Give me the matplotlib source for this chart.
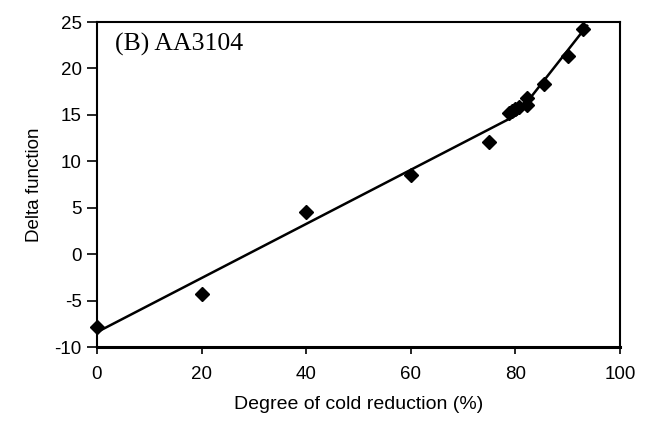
import matplotlib
matplotlib.use("Agg")
import matplotlib.pyplot as plt

# measured points: degree of cold reduction (%) vs delta function
reduction = [0, 20, 40, 60, 75, 78.8, 79.4, 80.0, 80.6, 82.2, 82.3, 85.4, 90.1, 92.9]
delta = [-7.8, -4.3, 4.5, 8.5, 12.1, 15.2, 15.4, 15.6, 15.8, 16.8, 16.1, 18.3, 21.3, 24.3]

# two-segment fit drawn through the data
fit_x = [0, 80.3, 93.7]
fit_y = [-8.4, 15.0, 24.6]

x_ticks = [0, 20, 40, 60, 80, 100]
y_ticks = [-10, -5, 0, 5, 10, 15, 20, 25]

sans = ["Liberation Sans", "DejaVu Sans"]
serif = ["Liberation Serif", "DejaVu Serif"]
plt.rcParams["axes.unicode_minus"] = False

fig = plt.figure(figsize=(6.51, 4.22), dpi=100)
ax = fig.add_axes((97 / 651, 1 - 347 / 422, 523 / 651, 325 / 422))

ax.plot(fit_x, fit_y, color="black", linewidth=1.8, zorder=2)
ax.plot(reduction, delta, linestyle="none", marker="D", markersize=7,
        color="black", zorder=3, clip_on=False)

ax.set_xlim(0, 100)
ax.set_ylim(-10, 25)
ax.set_xticks(x_ticks)
ax.set_yticks(y_ticks)
ax.tick_params(direction="out", width=1.2, labelsize=13.5)
ax.tick_params(axis="x", length=5, pad=9)
ax.tick_params(axis="y", length=7, pad=4)
for lab in ax.get_xticklabels() + ax.get_yticklabels():
    lab.set_family(sans)

for name, spine in ax.spines.items():
    spine.set_linewidth(1.5)
ax.spines["bottom"].set_linewidth(2.2)

ax.set_xlabel("Degree of cold reduction (%)", family=sans, fontsize=14, labelpad=9)
ax.set_ylabel("Delta function", family=sans, fontsize=13.5, labelpad=8)

ax.text(0.034, 0.965, "(B) AA3104", transform=ax.transAxes, family=serif,
        fontsize=18.5, ha="left", va="top")

fig.savefig("out.png", dpi=100)
